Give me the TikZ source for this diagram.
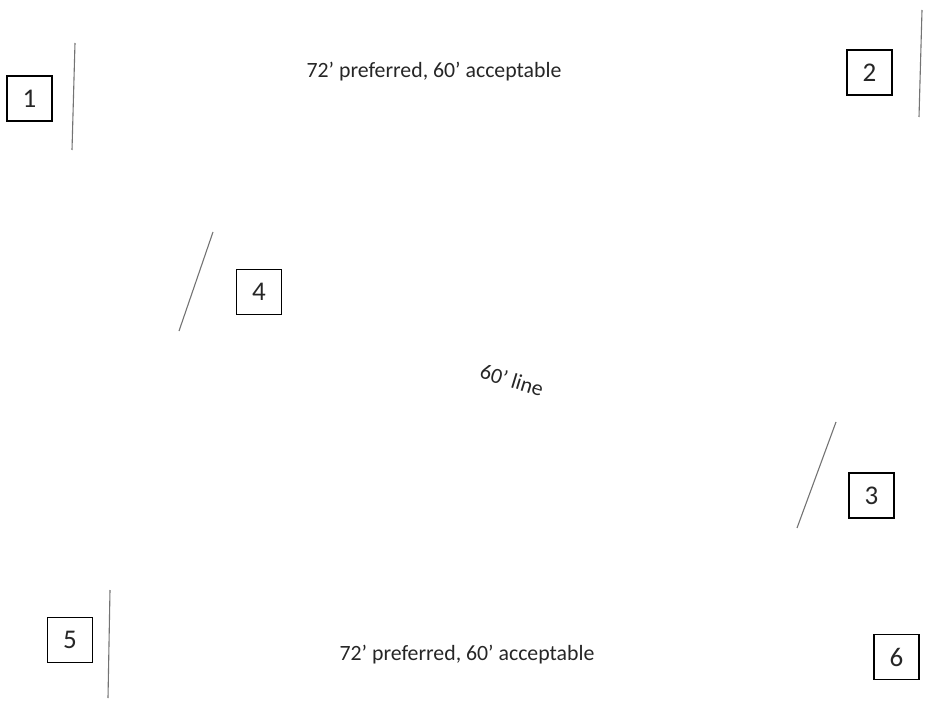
\documentclass[tikz,border=0pt]{standalone}
\usepackage{fontspec}
\setmainfont{Carlito}
\begin{document}
\begin{tikzpicture}[x=1pt,y=-1pt,
  numbox/.style={draw=black,line width=1.2pt,minimum width=45pt,minimum height=45pt,inner sep=0pt,font=\fontsize{27}{30}\selectfont,text=black!85},
  lbl/.style={font=\fontsize{21.8}{26}\selectfont,text=black!85,inner sep=0pt},
  mark line/.style={draw=black!55,line width=1.1pt}]
\useasboundingbox (0,0) rectangle (936,703);
% boxes
\node[numbox] (b1) at (29.5,98.5) {1};
\node[numbox] (b2) at (869.5,72.5) {2};
\node[numbox] (b3) at (871.5,495.5) {3};
\node[numbox] (b4) at (259,292) {4};
\node[numbox] (b5) at (70,640) {5};
\node[numbox] (b6) at (896.5,657) {6};
% lines
\coordinate (l1a) at (75,43);  \coordinate (l1b) at (72,150);
\coordinate (l2a) at (922,10); \coordinate (l2b) at (919,117);
\coordinate (l4a) at (213,232); \coordinate (l4b) at (179,331);
\coordinate (l3a) at (836,422); \coordinate (l3b) at (797,528);
\coordinate (l5a) at (110,590); \coordinate (l5b) at (108,698);
\draw[mark line] (l1a) -- (l1b);
\draw[mark line] (l2a) -- (l2b);
\draw[mark line] (l4a) -- (l4b);
\draw[mark line] (l3a) -- (l3b);
\draw[mark line] (l5a) -- (l5b);
% texts
\node[lbl] (t1) at (434,72) {72’ preferred, 60’ acceptable};
\node[lbl] (t2) at (467,655) {72’ preferred, 60’ acceptable};
\node[lbl,rotate=-17] (t3) at (512,380) {60’ line};
\end{tikzpicture}
\end{document}
